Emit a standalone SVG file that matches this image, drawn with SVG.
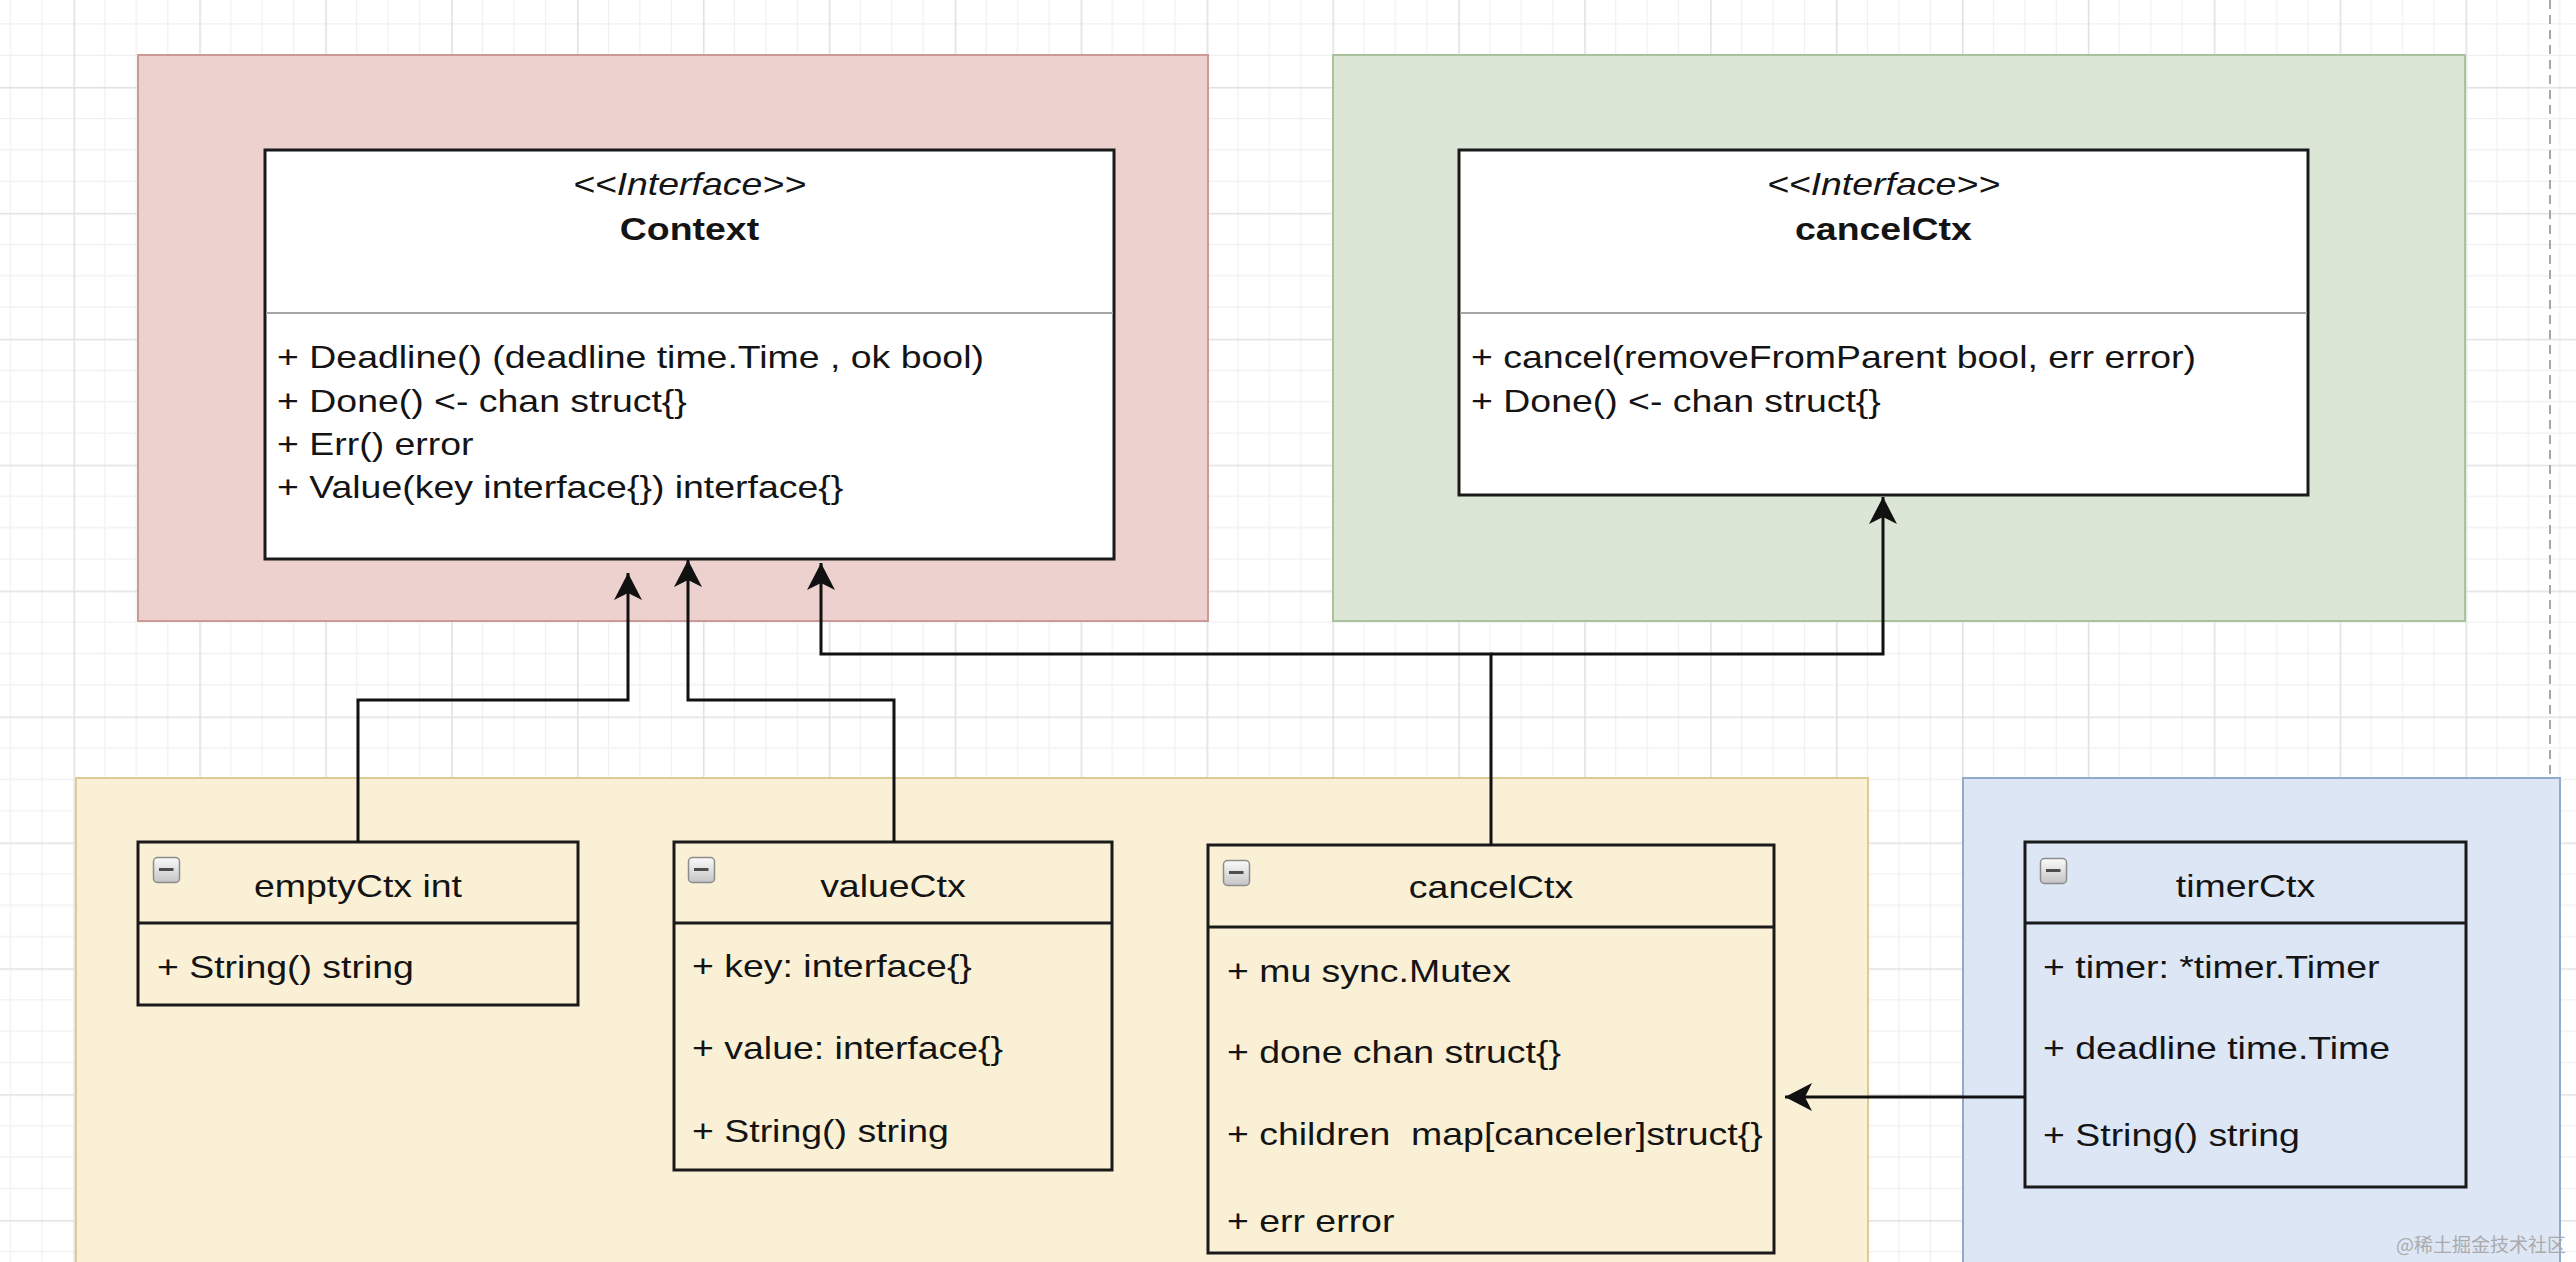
<svg xmlns="http://www.w3.org/2000/svg" xmlns:xlink="http://www.w3.org/1999/xlink" width="2576" height="1262" viewBox="0 0 2576 1262">
<style>
text{font-family:"Liberation Sans",Arial,Helvetica,sans-serif;font-size:32px;fill:#141414;white-space:pre}
.c{text-anchor:middle}
.it{font-style:italic}
.b{font-weight:bold}
.iface{fill:#ffffff;stroke:#1a1a1a;stroke-width:3}
.cls{fill:none;stroke:#1a1a1a;stroke-width:3}
.div{stroke:#a6a6a6;stroke-width:2}
.hdiv{stroke:#1a1a1a;stroke-width:3}
.conn{fill:none;stroke:#111111;stroke-width:3}
.wm{font-family:"Noto Sans CJK SC",sans-serif;font-size:19px;fill:#ababab;text-anchor:end}
</style>
<defs>
<pattern id="grid" x="73.4" y="87" width="125.9" height="125.9" patternUnits="userSpaceOnUse">
<path d="M31.5,0V125.9M62.9,0V125.9M94.4,0V125.9M0,31.5H125.9M0,62.9H125.9M0,94.4H125.9" stroke="#f0f0f0" stroke-width="1.2" fill="none"/>
<path d="M0.8,0V125.9M0,0.8H125.9" stroke="#e1e1e1" stroke-width="1.6" fill="none"/>
</pattern>
<linearGradient id="ig" x1="0" y1="0" x2="0" y2="1">
<stop offset="0" stop-color="#fbfbfb"/>
<stop offset="1" stop-color="#c4c4c4"/>
</linearGradient>
<g id="collapse">
<rect x="0.5" y="0.5" width="26" height="25" rx="4" fill="url(#ig)" stroke="#8c8c8c" stroke-width="1.5"/>
<path d="M6,12.5H20.5" stroke="#4d4d4d" stroke-width="3"/>
</g>
<marker id="arr" markerWidth="30" markerHeight="30" viewBox="0 0 30 30" refX="28" refY="15" orient="auto" markerUnits="userSpaceOnUse">
<path d="M28,15L1,1L8,15L1,29Z" fill="#111111"/>
</marker>
</defs>

<rect width="2576" height="1262" fill="#ffffff"/>
<rect width="2576" height="1262" fill="url(#grid)"/>
<path d="M2550,0V1262" stroke="#a8a8a8" stroke-width="2" stroke-dasharray="9 6"/>

<g id="context-group">
<rect x="138" y="55" width="1070" height="566" fill="#edd1ce" stroke="#c99a96" stroke-width="2"/>
</g>
<g id="cancelctx-iface-group">
<rect x="1333" y="55" width="1132" height="566" fill="#dce6d6" stroke="#a9c19c" stroke-width="2"/>
</g>
<g id="impl-group">
<rect x="76" y="778" width="1792" height="500" fill="#faf0d6" stroke="#dccb93" stroke-width="2"/>
</g>
<g id="timer-group">
<rect x="1963" y="778" width="597" height="500" fill="#dde6f5" stroke="#93a9c9" stroke-width="2"/>
</g>

<g id="Context">
<rect class="iface" x="265" y="150" width="849" height="409"/>
<path class="div" d="M266,313H1113"/>
<g transform="scale(1.17 1)">
<text class="c it" x="589.3" y="195">&lt;&lt;Interface&gt;&gt;</text>
<text class="c b" x="589.3" y="240">Context</text>
<text x="236.8" y="368">+ Deadline() (deadline time.Time , ok bool)</text>
<text x="236.8" y="412">+ Done() &lt;- chan struct{}</text>
<text x="236.8" y="455">+ Err() error</text>
<text x="236.8" y="498">+ Value(key interface{}) interface{}</text>
</g>
</g>

<g id="cancelCtx-interface">
<rect class="iface" x="1459" y="150" width="849" height="345"/>
<path class="div" d="M1460,313H2307"/>
<g transform="scale(1.17 1)">
<text class="c it" x="1609.8" y="195">&lt;&lt;Interface&gt;&gt;</text>
<text class="c b" x="1609.8" y="240">cancelCtx</text>
<text x="1257.3" y="368">+ cancel(removeFromParent bool, err error)</text>
<text x="1257.3" y="412">+ Done() &lt;- chan struct{}</text>
</g>
</g>

<g id="emptyCtx">
<rect class="cls" x="138" y="842" width="440" height="163"/>
<path class="hdiv" d="M138,923H578"/>
<use xlink:href="#collapse" x="153" y="857"/>
<g transform="scale(1.17 1)">
<text class="c" x="306" y="897">emptyCtx int</text>
<text x="134.2" y="978">+ String() string</text>
</g>
</g>

<g id="valueCtx">
<rect class="cls" x="674" y="842" width="438" height="328"/>
<path class="hdiv" d="M674,923H1112"/>
<use xlink:href="#collapse" x="688" y="857"/>
<g transform="scale(1.17 1)">
<text class="c" x="763.2" y="897">valueCtx</text>
<text x="591.5" y="977">+ key: interface{}</text>
<text x="591.5" y="1059">+ value: interface{}</text>
<text x="591.5" y="1142">+ String() string</text>
</g>
</g>

<g id="cancelCtx">
<rect class="cls" x="1208" y="845" width="566" height="408"/>
<path class="hdiv" d="M1208,927H1774"/>
<use xlink:href="#collapse" x="1223" y="860"/>
<g transform="scale(1.17 1)">
<text class="c" x="1274.4" y="898">cancelCtx</text>
<text x="1048.7" y="982">+ mu sync.Mutex</text>
<text x="1048.7" y="1063">+ done chan struct{}</text>
<text x="1048.7" y="1145">+ children  map[canceler]struct{}</text>
<text x="1048.7" y="1232">+ err error</text>
</g>
</g>

<g id="timerCtx">
<rect class="cls" x="2025" y="842" width="441" height="345"/>
<path class="hdiv" d="M2025,923H2466"/>
<use xlink:href="#collapse" x="2040" y="858"/>
<g transform="scale(1.17 1)">
<text class="c" x="1919.2" y="897">timerCtx</text>
<text x="1746.2" y="978">+ timer: *timer.Timer</text>
<text x="1746.2" y="1059">+ deadline time.Time</text>
<text x="1746.2" y="1146">+ String() string</text>
</g>
</g>

<g id="connectors">
<path class="conn" d="M358,842V700H628V573" marker-end="url(#arr)"/>
<path class="conn" d="M894,842V700H688V560" marker-end="url(#arr)"/>
<path class="conn" d="M1491,845V654H821V563" marker-end="url(#arr)"/>
<path class="conn" d="M1491,654H1883V497" marker-end="url(#arr)"/>
<path class="conn" d="M2025,1097H1785" marker-end="url(#arr)"/>
</g>

<text class="wm" x="2566" y="1252">@稀土掘金技术社区</text>
</svg>
